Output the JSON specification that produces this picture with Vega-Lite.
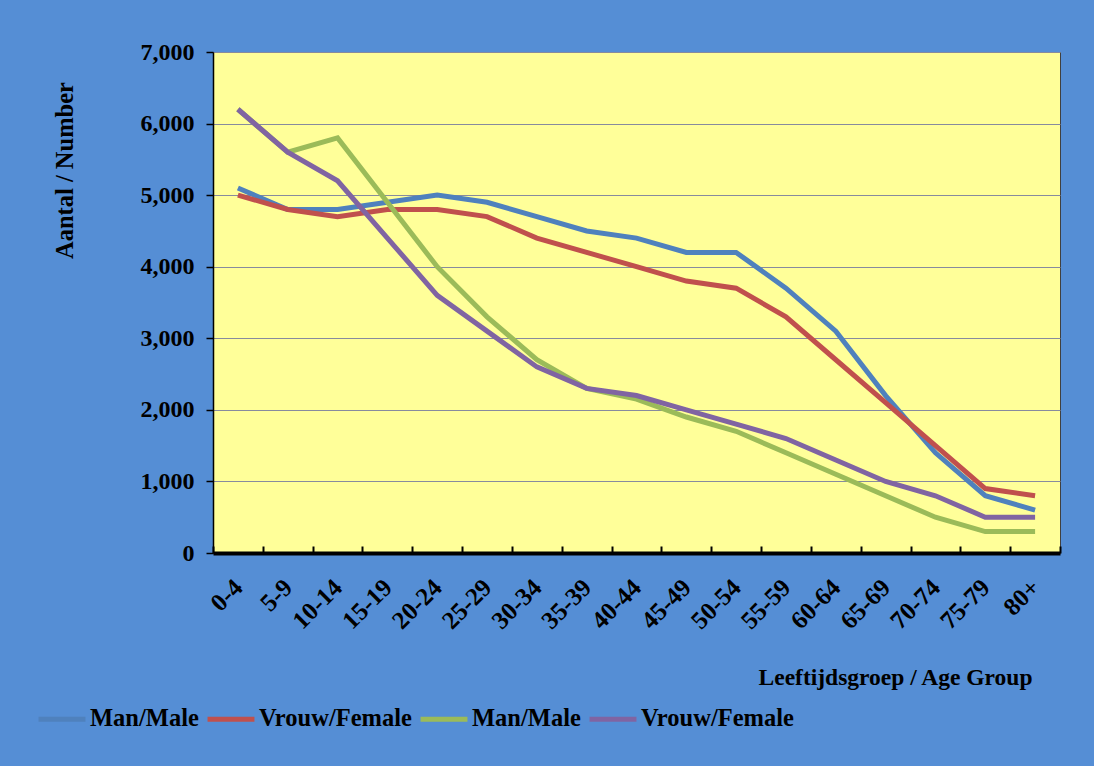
{
  "$schema": "https://vega.github.io/schema/vega-lite/v6.json",
  "width": 847,
  "height": 501,
  "autosize": {"type": "none"},
  "padding": {"left": 213, "top": 52, "right": 34, "bottom": 213},
  "background": "#558ED5",
  "config": {
    "view": {"fill": "#FFFF99", "stroke": "#404040", "strokeWidth": 1},
    "font": "Liberation Serif"
  },
  "data": {
    "values": [
      {"age": "0-4", "series": "A", "value": 5100},
      {"age": "5-9", "series": "A", "value": 4800},
      {"age": "10-14", "series": "A", "value": 4800},
      {"age": "15-19", "series": "A", "value": 4900},
      {"age": "20-24", "series": "A", "value": 5000},
      {"age": "25-29", "series": "A", "value": 4900},
      {"age": "30-34", "series": "A", "value": 4700},
      {"age": "35-39", "series": "A", "value": 4500},
      {"age": "40-44", "series": "A", "value": 4400},
      {"age": "45-49", "series": "A", "value": 4200},
      {"age": "50-54", "series": "A", "value": 4200},
      {"age": "55-59", "series": "A", "value": 3700},
      {"age": "60-64", "series": "A", "value": 3100},
      {"age": "65-69", "series": "A", "value": 2200},
      {"age": "70-74", "series": "A", "value": 1400},
      {"age": "75-79", "series": "A", "value": 800},
      {"age": "80+", "series": "A", "value": 600},
      {"age": "0-4", "series": "B", "value": 5000},
      {"age": "5-9", "series": "B", "value": 4800},
      {"age": "10-14", "series": "B", "value": 4700},
      {"age": "15-19", "series": "B", "value": 4800},
      {"age": "20-24", "series": "B", "value": 4800},
      {"age": "25-29", "series": "B", "value": 4700},
      {"age": "30-34", "series": "B", "value": 4400},
      {"age": "35-39", "series": "B", "value": 4200},
      {"age": "40-44", "series": "B", "value": 4000},
      {"age": "45-49", "series": "B", "value": 3800},
      {"age": "50-54", "series": "B", "value": 3700},
      {"age": "55-59", "series": "B", "value": 3300},
      {"age": "60-64", "series": "B", "value": 2700},
      {"age": "65-69", "series": "B", "value": 2100},
      {"age": "70-74", "series": "B", "value": 1500},
      {"age": "75-79", "series": "B", "value": 900},
      {"age": "80+", "series": "B", "value": 800},
      {"age": "0-4", "series": "C", "value": 6200},
      {"age": "5-9", "series": "C", "value": 5600},
      {"age": "10-14", "series": "C", "value": 5800},
      {"age": "15-19", "series": "C", "value": 4900},
      {"age": "20-24", "series": "C", "value": 4000},
      {"age": "25-29", "series": "C", "value": 3300},
      {"age": "30-34", "series": "C", "value": 2700},
      {"age": "35-39", "series": "C", "value": 2300},
      {"age": "40-44", "series": "C", "value": 2150},
      {"age": "45-49", "series": "C", "value": 1900},
      {"age": "50-54", "series": "C", "value": 1700},
      {"age": "55-59", "series": "C", "value": 1400},
      {"age": "60-64", "series": "C", "value": 1100},
      {"age": "65-69", "series": "C", "value": 800},
      {"age": "70-74", "series": "C", "value": 500},
      {"age": "75-79", "series": "C", "value": 300},
      {"age": "80+", "series": "C", "value": 300},
      {"age": "0-4", "series": "D", "value": 6200},
      {"age": "5-9", "series": "D", "value": 5600},
      {"age": "10-14", "series": "D", "value": 5200},
      {"age": "15-19", "series": "D", "value": 4400},
      {"age": "20-24", "series": "D", "value": 3600},
      {"age": "25-29", "series": "D", "value": 3100},
      {"age": "30-34", "series": "D", "value": 2600},
      {"age": "35-39", "series": "D", "value": 2300},
      {"age": "40-44", "series": "D", "value": 2200},
      {"age": "45-49", "series": "D", "value": 2000},
      {"age": "50-54", "series": "D", "value": 1800},
      {"age": "55-59", "series": "D", "value": 1600},
      {"age": "60-64", "series": "D", "value": 1300},
      {"age": "65-69", "series": "D", "value": 1000},
      {"age": "70-74", "series": "D", "value": 800},
      {"age": "75-79", "series": "D", "value": 500},
      {"age": "80+", "series": "D", "value": 500}
    ]
  },
  "mark": {"type": "line", "strokeWidth": 5},
  "encoding": {
    "x": {
      "field": "age",
      "type": "ordinal",
      "sort": ["0-4","5-9","10-14","15-19","20-24","25-29","30-34","35-39","40-44","45-49","50-54","55-59","60-64","65-69","70-74","75-79","80+"],
      "bandPosition": 0.5,
      "scale": {"type": "band", "paddingInner": 0, "paddingOuter": 0},
      "axis": {
        "title": "Leeftijdsgroep / Age Group",
        "titleFontSize": 23.5,
        "titleFontWeight": "bold",
        "titleColor": "black",
        "titleX": 819,
        "titleY": 124,
        "titleAlign": "right",
        "titleBaseline": "middle",
        "labelAngle": -45,
        "labelAlign": "right",
        "labelBaseline": "middle",
        "labelFontSize": 25,
        "labelFontWeight": "bold",
        "labelColor": "black",
        "labelPadding": 37,
        "tickBand": "extent",
        "ticks": true,
        "tickSize": -7,
        "tickColor": "black",
        "tickWidth": 2,
        "domainColor": "black",
        "domainWidth": 4,
        "grid": false
      }
    },
    "y": {
      "field": "value",
      "type": "quantitative",
      "scale": {"domain": [0, 7000]},
      "axis": {
        "title": "Aantal / Number",
        "titleFontSize": 24.5,
        "titleFontWeight": "bold",
        "titleColor": "black",
        "titleAngle": -90,
        "titleX": -148,
        "titleY": 118,
        "titleAlign": "center",
        "titleBaseline": "middle",
        "values": [0, 1000, 2000, 3000, 4000, 5000, 6000, 7000],
        "format": ",d",
        "labelFontSize": 24,
        "labelFontWeight": "bold",
        "labelColor": "black",
        "labelPadding": 12,
        "tickSize": 7,
        "tickColor": "black",
        "tickWidth": 1.5,
        "domainColor": "black",
        "domainWidth": 1.5,
        "grid": true,
        "gridColor": "#878B9E",
        "gridWidth": 1.2
      }
    },
    "color": {
      "field": "series",
      "type": "nominal",
      "scale": {"domain": ["A", "B", "C", "D"], "range": ["#4F81BD", "#C0504D", "#9BBB59", "#8064A2"]},
      "legend": {
        "orient": "none",
        "legendX": -177,
        "legendY": 641,
        "direction": "horizontal",
        "title": null,
        "symbolType": "stroke",
        "symbolSize": 2200,
        "symbolStrokeWidth": 5,
        "labelFontSize": 24.5,
        "labelFontWeight": "bold",
        "labelColor": "black",
        "labelOffset": 2,
        "columnPadding": -2,
        "labelExpr": "datum.label == 'A' || datum.label == 'C' ? 'Man/Male' : 'Vrouw/Female'"
      }
    }
  }
}
